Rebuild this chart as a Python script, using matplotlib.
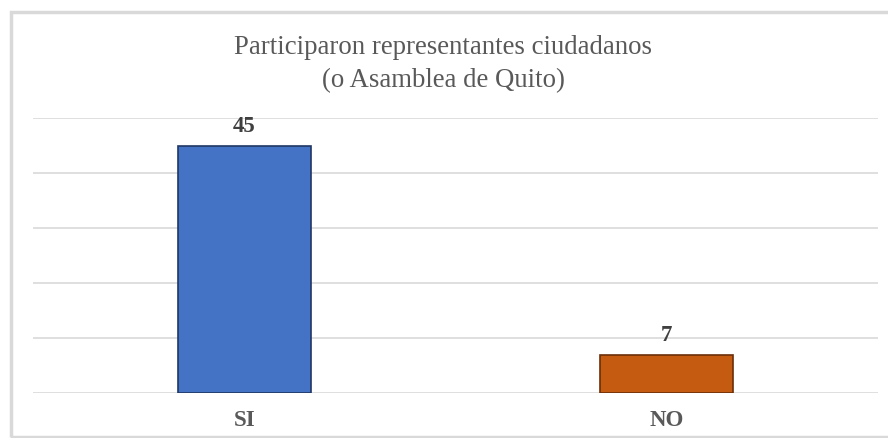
import matplotlib
matplotlib.use("Agg")
import matplotlib.pyplot as plt
from matplotlib.patches import Rectangle

# data
categories = ["SI", "NO"]
values = [45, 7]
bar_colors = ["#4472C4", "#C55A11"]
edge_colors = ["#1F3864", "#6B2F08"]
title = "Participaron representantes ciudadanos\n(o Asamblea de Quito)"

plt.rcParams["font.family"] = ["Liberation Serif", "DejaVu Serif"]

fig = plt.figure(figsize=(8.88, 4.38), dpi=100)
# outer chart frame
fig.patches.append(Rectangle((11 / 888, 0.002), 1.2, 1 - 12 / 438 - 0.002,
                             transform=fig.transFigure, fill=False,
                             edgecolor="#D9D9D9", linewidth=2.5))

ax = fig.add_axes([33 / 888, 1 - 393 / 438, 845 / 888, 275 / 438])
x = range(len(categories))
ax.bar(x, values, width=0.315, color=bar_colors, edgecolor=edge_colors,
       linewidth=1.2, zorder=3)
ax.set_xlim(-0.5, 1.5)
ax.set_ylim(0, 50)
ax.set_yticks(range(0, 51, 10))
ax.yaxis.grid(True, color="#D9D9D9", linewidth=1.2, zorder=0)
ax.tick_params(axis="y", left=False, labelleft=False)
ax.tick_params(axis="x", bottom=False, pad=9)
ax.set_xticks(list(x))
ax.set_xticklabels(categories, fontsize=16.5, fontweight="bold", color="#595959")
for s in ax.spines.values():
    s.set_visible(False)

for i, v in zip(x, values):
    ax.annotate(str(v), (i, v), xytext=(0, 6), textcoords="offset points",
                ha="center", va="bottom", fontsize=16.5, fontweight="bold",
                color="#404040")

fig.text(443 / 888, 1 - 64 / 438, title, ha="center", va="center",
         fontsize=19.3, color="#595959", linespacing=1.4)

fig.savefig("out.png", dpi=100)
